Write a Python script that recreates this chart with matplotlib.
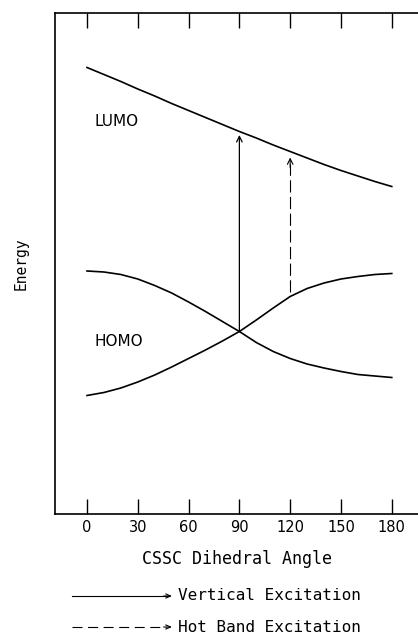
import matplotlib
matplotlib.use("Agg")
import matplotlib.pyplot as plt
from matplotlib.lines import Line2D

# CSSC dihedral angle (deg) and orbital energies (arbitrary units)
angles = [0, 10, 20, 30, 40, 50, 60, 70, 80, 90,
          100, 110, 120, 130, 140, 150, 160, 170, 180]
lumo = [8.93, 8.79, 8.65, 8.50, 8.36, 8.21, 8.07, 7.93, 7.79, 7.65,
        7.52, 7.38, 7.25, 7.12, 6.99, 6.87, 6.76, 6.65, 6.55]
homo_down = [4.86, 4.84, 4.79, 4.70, 4.57, 4.42, 4.24, 4.05, 3.85, 3.65,
             3.43, 3.25, 3.11, 3.00, 2.92, 2.85, 2.79, 2.76, 2.73]
homo_up = [2.37, 2.43, 2.52, 2.64, 2.78, 2.94, 3.11, 3.28, 3.46, 3.65,
           3.88, 4.12, 4.35, 4.51, 4.62, 4.70, 4.75, 4.79, 4.81]

# excitations: angle, start energy, end energy
vertical_exc = [90, 3.65, 7.58]
hot_band_exc = [120, 4.44, 7.13]

xticks = [0, 30, 60, 90, 120, 150, 180]
legend_labels = ["Vertical Excitation", "Hot Band Excitation"]

plt.rcParams['font.family'] = ['DejaVu Sans']
mono = 'DejaVu Sans Mono'

fig = plt.figure(figsize=(4.18, 6.39), dpi=100)
ax = fig.add_axes([55 / 418, 125 / 639, 363 / 418, 501 / 639])

lw = 1.2
ax.plot(angles, lumo, color='black', lw=lw)
ax.plot(angles, homo_down, color='black', lw=lw)
ax.plot(angles, homo_up, color='black', lw=lw)

head = '->,head_length=0.4,head_width=0.2'

# vertical excitation (solid arrow)
x, y0, y1 = vertical_exc
ax.annotate('', xy=(x, y1), xytext=(x, y0),
            arrowprops=dict(arrowstyle=head, color='black', lw=0.9,
                            shrinkA=0, shrinkB=0))

# hot band excitation (dashed line + small head)
x, y0, y1 = hot_band_exc
ln, = ax.plot([x, x], [y0, y1 - 0.12], color='black', lw=0.8)
ln.set_dashes((11, 4))
ax.annotate('', xy=(x, y1), xytext=(x, y1 - 0.2),
            arrowprops=dict(arrowstyle=head, color='black', lw=0.8,
                            shrinkA=0, shrinkB=0))

ax.text(4.5, 7.84, 'LUMO', fontsize=11, va='center', ha='left')
ax.text(4.5, 3.46, 'HOMO', fontsize=11, va='center', ha='left')

ax.set_xlim(-18.9, 195.5)
ax.set_ylim(0, 10.02)
ax.set_xticks(xticks)
ax.set_xticklabels([str(t) for t in xticks], fontsize=10.5)
ax.set_yticks([])
ax.tick_params(axis='x', direction='in', length=10.5, width=1.0,
               top=True, bottom=True, pad=4)
ax.spines['right'].set_visible(False)
for s in ['left', 'top', 'bottom']:
    ax.spines[s].set_linewidth(1.2)

ax.set_xlabel('CSSC Dihedral Angle', fontsize=12, family=mono, labelpad=11)
ax.set_ylabel('Energy', fontsize=10.5, family=mono, labelpad=19)

# hand-drawn style key under the plot
x0, x1 = 72 / 418, 172 / 418
ya, yb = 1 - 596 / 639, 1 - 627 / 639
key_head = '->,head_length=0.35,head_width=0.15'
fig.add_artist(Line2D([x0, x1 - 0.01], [ya, ya], color='black', lw=0.8))
ax.annotate('', xy=(x1, ya), xytext=(x1 - 0.02, ya), xycoords='figure fraction',
            annotation_clip=False,
            arrowprops=dict(arrowstyle=key_head, color='black', lw=0.8,
                            shrinkA=0, shrinkB=0))
dl = Line2D([x0, x1 - 0.015], [yb, yb], color='black', lw=0.8)
dl.set_dashes((9, 5))
fig.add_artist(dl)
ax.annotate('', xy=(x1, yb), xytext=(x1 - 0.02, yb), xycoords='figure fraction',
            annotation_clip=False,
            arrowprops=dict(arrowstyle=key_head, color='black', lw=0.8,
                            shrinkA=0, shrinkB=0))
fig.text(178 / 418, ya, legend_labels[0], fontsize=11.5, family=mono,
         va='center', ha='left')
fig.text(178 / 418, yb, legend_labels[1], fontsize=11.5, family=mono,
         va='center', ha='left')

fig.savefig('out.png', dpi=100)
